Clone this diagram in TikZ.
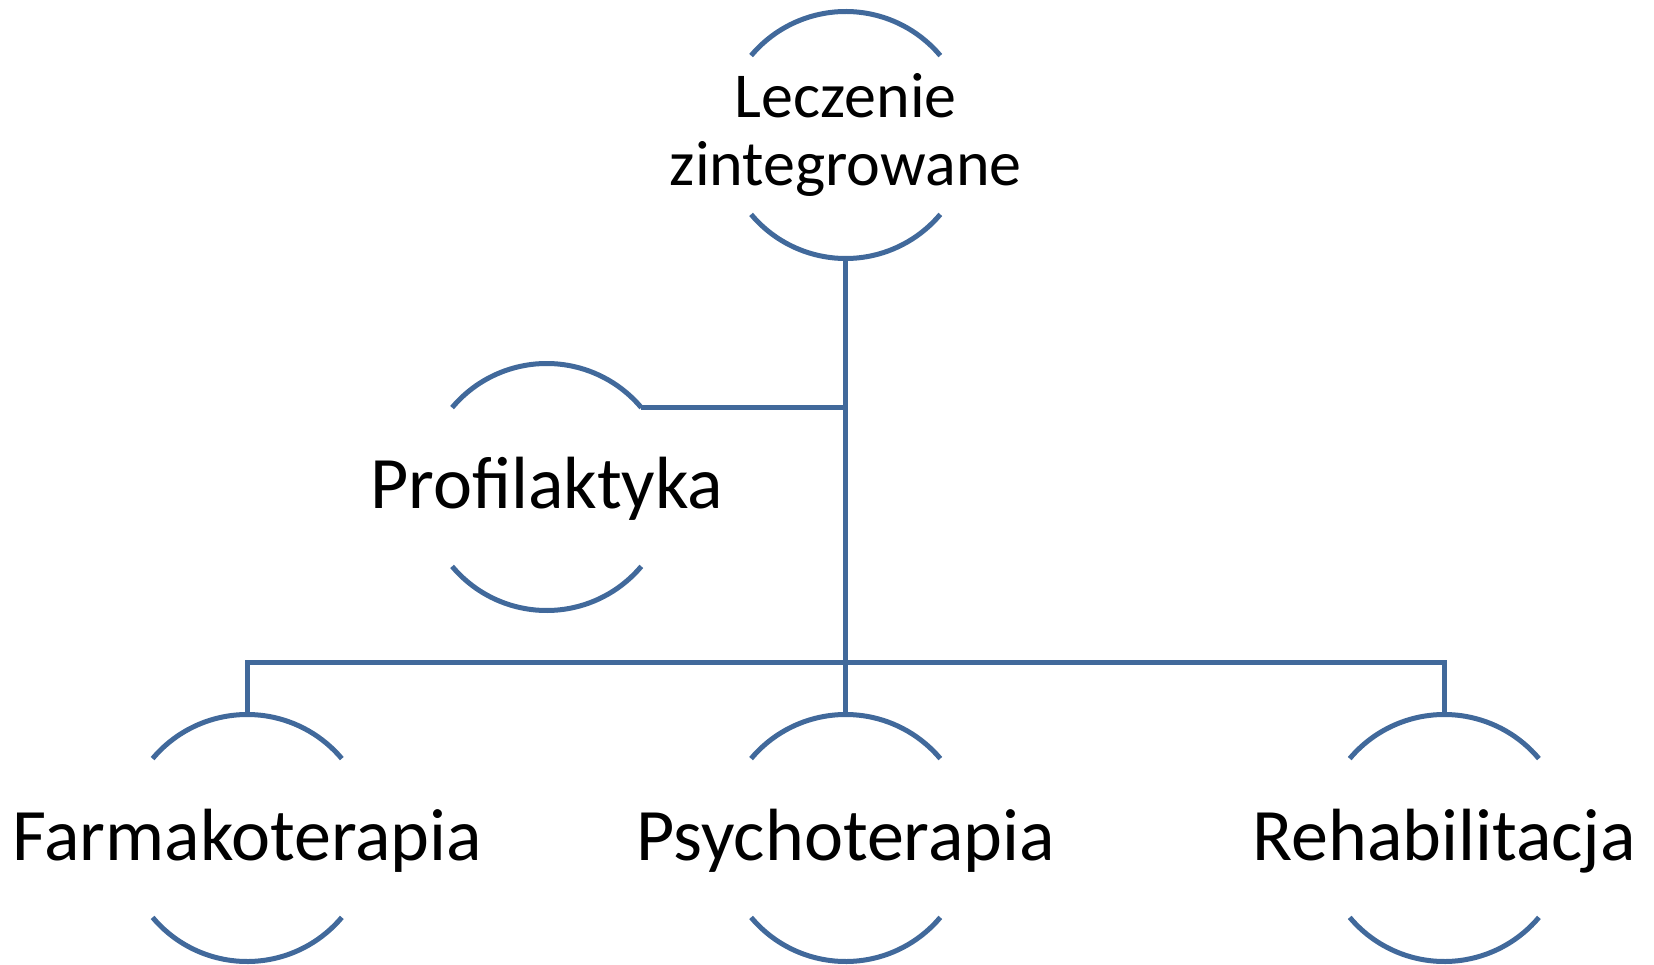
\documentclass[tikz,border=0pt]{standalone}
\usepackage{fontspec}
\setmainfont{Carlito}
\usepackage{tikz}
\definecolor{ringblue}{RGB}{65,105,155}

\begin{document}
\begin{tikzpicture}[
    x=1pt, y=-1pt,
    ring/.style={
        circle,
        minimum size=247pt,
        inner sep=0pt,
        outer sep=0pt
    },
    caption/.style={
        anchor=base,
        align=center,
        inner sep=0pt,
        font=\fontsize{74}{76}\selectfont
    },
    topcaption/.style={
        caption,
        font=\fontsize{64}{68}\selectfont
    },
    rim/.style={draw=ringblue, line width=5pt},
    edge/.style={draw=ringblue, line width=5pt}
]
    \useasboundingbox (0,0) rectangle (1654,965);

    \node[ring] (leczenie) at (845.7,135) {};
    \node[ring] (profil) at (546.7,487) {};
    \node[ring] (farma) at (247.2,838) {};
    \node[ring] (psycho) at (845.7,838) {};
    \node[ring] (rehab) at (1444.3,838) {};

    \node[topcaption] (leczenieT) at ([yshift=-51pt]leczenie.center) {Leczenie\\zintegrowane};
    \node[caption] (profilT) at ([yshift=-21pt]profil.center) {Profilaktyka};
    \node[caption] (farmaT) at ([yshift=-22pt]farma.center) {Farmakoterapia};
    \node[caption] (psychoT) at ([yshift=-22pt]psycho.center) {Psychoterapia};
    \node[caption] (rehabT) at ([yshift=-22pt]rehab.center) {Rehabilitacja};

    \draw[rim] (leczenie.140) arc[start angle=140, end angle=40, radius=123.5pt];
    \draw[rim] (leczenie.220) arc[start angle=220, end angle=320, radius=123.5pt];
    \draw[rim] (profil.140) arc[start angle=140, end angle=40, radius=123.5pt];
    \draw[rim] (profil.220) arc[start angle=220, end angle=320, radius=123.5pt];
    \draw[rim] (farma.140) arc[start angle=140, end angle=40, radius=123.5pt];
    \draw[rim] (farma.220) arc[start angle=220, end angle=320, radius=123.5pt];
    \draw[rim] (psycho.140) arc[start angle=140, end angle=40, radius=123.5pt];
    \draw[rim] (psycho.220) arc[start angle=220, end angle=320, radius=123.5pt];
    \draw[rim] (rehab.140) arc[start angle=140, end angle=40, radius=123.5pt];
    \draw[rim] (rehab.220) arc[start angle=220, end angle=320, radius=123.5pt];

    \coordinate (bus) at (845.7,662.7);

    \draw[edge] (leczenie.south) -- (psycho.north);
    \draw[edge] (profil.40) -- (profil.40 -| leczenie.south);
    \draw[edge] (farma.north) |- (bus) -| (rehab.north);
\end{tikzpicture}
\end{document}
